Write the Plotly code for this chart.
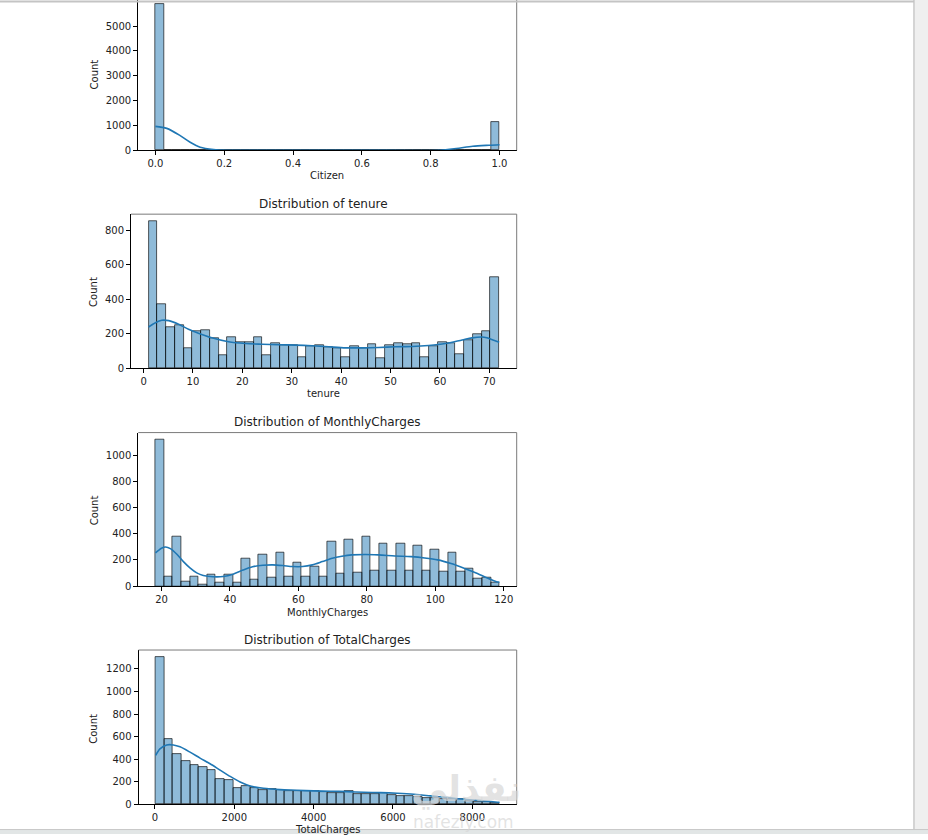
import numpy as np
import plotly.graph_objects as go

W, H = 928, 840

# ---- data (40 bins each, seaborn histplot + kde) ----
citizen_range = (0.0, 1.0)
citizen_counts = [5901] + [0] * 38 + [1142]
citizen_kde_x = [0.0, 0.033, 0.072, 0.101, 0.130, 0.169, 0.209, 0.4, 0.6, 0.825, 0.874, 0.922, 0.97, 1.0]
citizen_kde_y = [960, 880, 587, 320, 120, 27, 0, 0, 0, 0, 67, 160, 200, 220]

tenure_range = (1, 72)
tenure_counts = [852, 375, 240, 252, 119, 213, 223, 177, 79, 183,
                 150, 154, 181, 79, 148, 135, 137, 67, 129, 137,
                 125, 117, 67, 131, 117, 142, 62, 133, 148, 138,
                 148, 63, 131, 150, 144, 81, 165, 198, 217, 531]
tenure_kde_x = [1, 2.4, 3.7, 5.1, 7.1, 9.1, 11.1, 13.8, 17.2, 20.6, 24, 27.3, 30.7, 34.1,
                37.5, 40.9, 44.2, 47.6, 51, 54.4, 57.7, 61.1, 64.5, 66.5, 68.5, 69.5, 70.9, 72]
tenure_kde_y = [240, 265, 279, 277, 256, 227, 204, 177, 154, 144, 140, 137, 135, 131,
                125, 119, 119, 121, 125, 127, 133, 144, 165, 177, 182, 177, 163, 152]

monthly_range = (18.25, 118.75)
monthly_counts = [1116, 71, 380, 38, 76, 10, 91, 23, 84, 23,
                  213, 51, 243, 68, 253, 76, 180, 73, 152, 76,
                  342, 96, 357, 104, 380, 122, 327, 119, 322, 119,
                  307, 119, 279, 112, 254, 112, 137, 61, 63, 30]
monthly_kde_x = [18.25, 20, 21.2, 22.6, 24.5, 26.4, 28.4, 30.3, 32.2, 35.1, 38, 40.9, 43.8,
                 46.6, 49.6, 52.5, 55.4, 58.3, 61.2, 64.1, 67, 69.9, 72.7, 75.6, 79.5, 83.4,
                 88.2, 93, 96.9, 100.7, 104.6, 108.4, 112.3, 115.2, 117.9, 118.75]
monthly_kde_y = [253, 289, 299, 286, 243, 187, 137, 101, 81, 71, 73, 91, 122,
                 147, 159, 162, 157, 149, 149, 162, 187, 213, 228, 238, 241, 238,
                 230, 225, 215, 200, 172, 137, 96, 61, 33, 29]

total_range = (18.8, 8684.8)
total_counts = [1303, 579, 441, 385, 352, 333, 306, 227, 216, 148,
                160, 148, 124, 133, 126, 119, 114, 114, 118, 112,
                96, 100, 121, 90, 90, 92, 100, 79, 74, 70,
                65, 59, 53, 45, 42, 47, 28, 22, 16, 10]
total_kde_x = [18.8, 126, 295, 463, 632, 884, 1137, 1389, 1642, 1895, 2147, 2400, 2737,
               3158, 3579, 4000, 4421, 4842, 5263, 5684, 6105, 6526, 6947, 7368, 7789,
               8210, 8632, 8684.8]
total_kde_y = [434, 491, 526, 526, 509, 462, 409, 359, 303, 247, 197, 162, 141,
               129, 124, 118, 115, 112, 106, 103, 97, 88, 74, 59, 44, 32, 18, 17]

# ---- layout of the four separate matplotlib figures, in screen pixels ----
panels = [
    dict(name="Citizen", title=None, counts=citizen_counts, rng=citizen_range,
         kx=citizen_kde_x, ky=citizen_kde_y, box=(138.2, 0, 516.7, 151.3),
         xr=[-0.05, 1.05], yr=[0, 6050], xd=0.2, yd=1000, xfmt=".1f",
         title_y=None, xlab_y=176.7, ylab_y=75),
    dict(name="tenure", title="Distribution of tenure", counts=tenure_counts, rng=tenure_range,
         kx=tenure_kde_x, ky=tenure_kde_y, box=(131, 215.7, 516.7, 371),
         xr=[-2.55, 75.55], yr=[0, 894.6], xd=10, yd=200, xfmt="d",
         title_y=205, xlab_y=396.7, ylab_y=294),
    dict(name="MonthlyCharges", title="Distribution of MonthlyCharges", counts=monthly_counts,
         rng=monthly_range, kx=monthly_kde_x, ky=monthly_kde_y, box=(138.3, 435.7, 516.7, 590.3),
         xr=[13.225, 123.775], yr=[0, 1172], xd=20, yd=200, xfmt="d",
         title_y=425, xlab_y=616.7, ylab_y=514),
    dict(name="TotalCharges", title="Distribution of TotalCharges", counts=total_counts,
         rng=total_range, kx=total_kde_x, ky=total_kde_y, box=(138.5, 654.7, 516.7, 810),
         xr=[-414.5, 9118], yr=[0, 1368], xd=2000, yd=200, xfmt="d",
         title_y=644.3, xlab_y=835, ylab_y=734),
]

BAR = "rgba(31,119,180,0.5)"
LINE = "#1f77b4"
FONT = "DejaVu Sans"
TXT = "#222222"


def px(x):
    return x / W


def py(y):
    return 1 - y / H


fig = go.Figure()
annotations = []
shapes = []

for i, p in enumerate(panels, start=1):
    sfx = "" if i == 1 else str(i)
    xa, ya = "x" + sfx, "y" + sfx
    lo, hi = p["rng"]
    n = len(p["counts"])
    width = (hi - lo) / n
    edges = lo + width * np.arange(n)

    fig.add_trace(go.Bar(
        x=edges, y=p["counts"], width=width, offset=0,
        marker=dict(color=BAR, line=dict(color="rgba(0,0,0,0.8)", width=0.8)),
        xaxis=xa, yaxis=ya, showlegend=False, hoverinfo="x+y",
    ))
    fig.add_trace(go.Scatter(
        x=p["kx"], y=p["ky"], mode="lines",
        line=dict(color=LINE, width=1.6, shape="spline", smoothing=0.8),
        xaxis=xa, yaxis=ya, showlegend=False, hoverinfo="skip",
    ))

    x0, y0, x1, y1 = p["box"]
    common = dict(showgrid=False, zeroline=False, showline=True, linecolor="black", linewidth=1,
                  ticks="outside", ticklen=4, tickwidth=1, tickcolor="black",
                  tickfont=dict(family=FONT, size=10, color=TXT), fixedrange=True)
    fig.update_layout(**{
        ("xaxis" + sfx): dict(common, domain=[px(x0), px(x1)], range=p["xr"], anchor=ya,
                              dtick=p["xd"], tick0=0, tickformat=p["xfmt"]),
        ("yaxis" + sfx): dict(common, domain=[py(y1), py(y0)], range=p["yr"], anchor=xa,
                              dtick=p["yd"], tick0=0),
    })

    # matplotlib frame: top and right spines
    if i != 1:
        shapes.append(dict(type="line", xref="paper", yref="paper", x0=px(x0), x1=px(x1),
                           y0=py(y0), y1=py(y0), line=dict(color="#7a7a7a", width=1)))
    shapes.append(dict(type="line", xref="paper", yref="paper", x0=px(x1), x1=px(x1),
                       y0=py(y0), y1=py(y1), line=dict(color="#7a7a7a", width=1)))

    cx = (x0 + x1) / 2
    if p["title"]:
        annotations.append(dict(text=p["title"], x=px(cx), y=py(p["title_y"]), xref="paper",
                                yref="paper", showarrow=False, xanchor="center", yanchor="middle",
                                font=dict(family=FONT, size=12, color=TXT)))
    annotations.append(dict(text=p["name"], x=px(cx), y=py(p["xlab_y"]), xref="paper", yref="paper",
                            showarrow=False, xanchor="center", yanchor="middle",
                            font=dict(family=FONT, size=10, color=TXT)))
    annotations.append(dict(text="Count", x=px(94), y=py(p["ylab_y"]), xref="paper", yref="paper",
                            showarrow=False, textangle=-90, xanchor="center", yanchor="middle",
                            font=dict(family=FONT, size=10, color=TXT)))

# faint site watermark over the last chart
annotations.append(dict(text="<b>نفذلي</b>", x=px(466), y=py(795), xref="paper", yref="paper",
                        showarrow=False, xanchor="center", yanchor="middle",
                        font=dict(family=FONT, size=36, color="rgba(215,215,215,0.7)")))
annotations.append(dict(text="nafezly.com", x=px(463), y=py(828), xref="paper", yref="paper",
                        showarrow=False, xanchor="center", yanchor="middle",
                        font=dict(family=FONT, size=17, color="rgba(215,215,215,0.7)")))

# document viewer chrome: top rule, page edge, side strip, bottom bar
shapes += [
    dict(type="rect", xref="paper", yref="paper", x0=px(915), x1=1, y0=0, y1=1,
         fillcolor="#efefef", line=dict(width=0), layer="above"),
    dict(type="line", xref="paper", yref="paper", x0=px(914), x1=px(914), y0=0, y1=1,
         line=dict(color="#d4d4d4", width=2), layer="above"),
    dict(type="line", xref="paper", yref="paper", x0=0, x1=px(914), y0=py(1.5), y1=py(1.5),
         line=dict(color="#c4c4c4", width=2), layer="above"),
    dict(type="rect", xref="paper", yref="paper", x0=0, x1=1, y0=0, y1=py(835.5),
         fillcolor="#e2e6e6", line=dict(width=0), layer="above"),
    dict(type="line", xref="paper", yref="paper", x0=0, x1=1, y0=py(835.5), y1=py(835.5),
         line=dict(color="#c8c8c8", width=1), layer="above"),
]

fig.update_layout(
    width=W, height=H, margin=dict(l=0, r=0, t=0, b=0),
    paper_bgcolor="white", plot_bgcolor="white",
    bargap=0, annotations=annotations, shapes=shapes,
    font=dict(family=FONT, color=TXT),
)

# the page's default body margin would push the figure in; pin the page to the figure size
page_fix = ("var s=document.documentElement.style;s.margin='0';s.overflow='hidden';"
            "var b=document.body.style;b.margin='0';b.overflow='hidden';")
fig.write_html("out.html", post_script=page_fix, config={"displayModeBar": False})
